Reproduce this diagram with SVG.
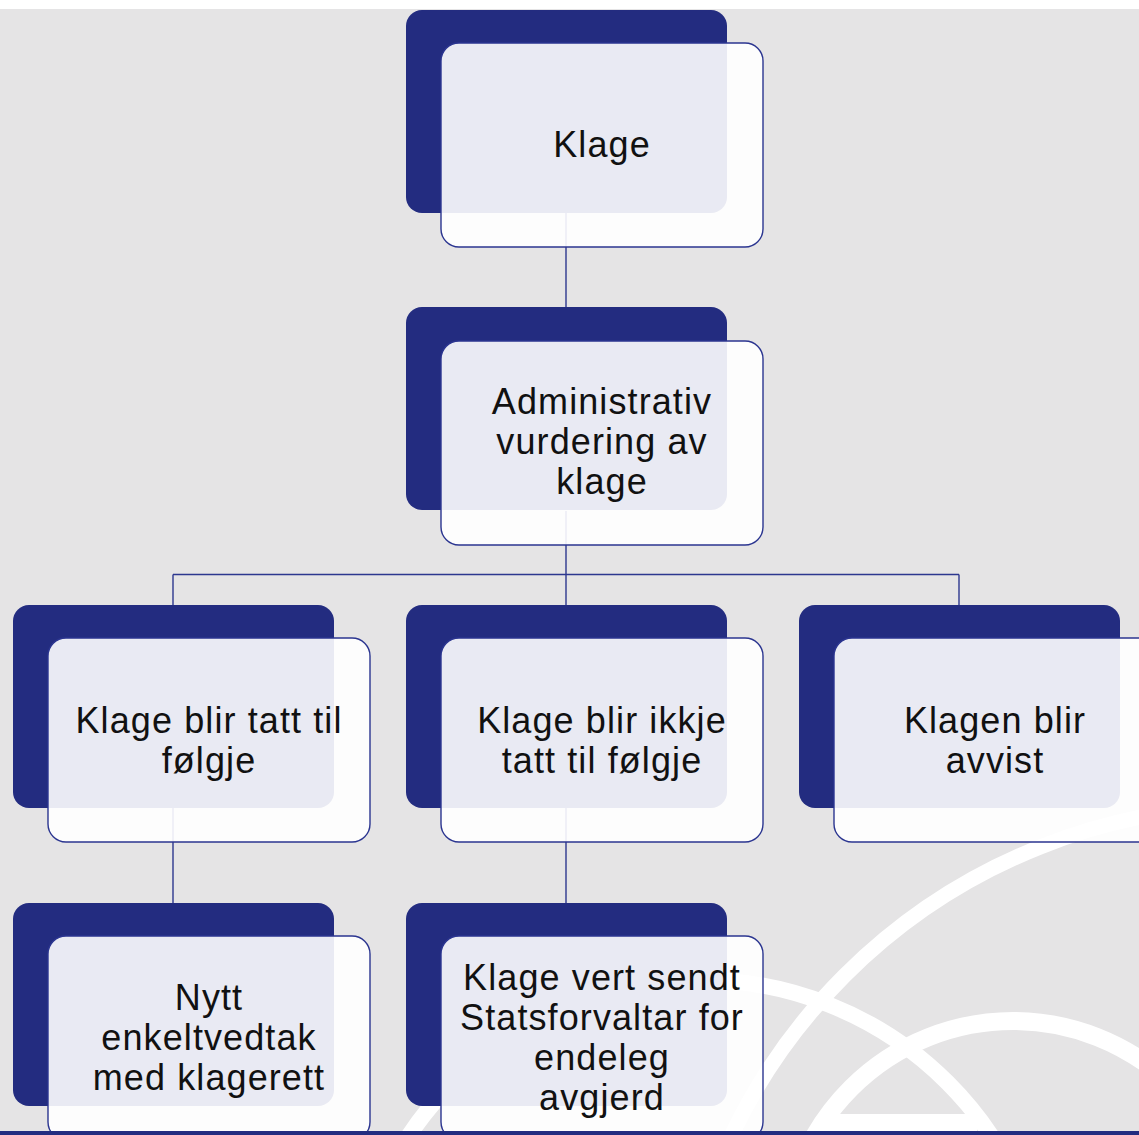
<svg xmlns="http://www.w3.org/2000/svg" width="1139" height="1135" viewBox="0 0 1139 1135">
  <style>
    .back { fill: #232c80; }
    .front { fill: #ffffff; fill-opacity: 0.9; stroke: #2b3590; stroke-width: 1.4; }
    .lbl { font-family: "Liberation Sans", Arial, sans-serif; font-size: 36px; letter-spacing: 1.1px; fill: #111111; text-anchor: middle; }
    .conn { stroke: #2d378f; stroke-width: 1.4; fill: none; }
    .arc { fill: none; stroke: #ffffff; }
  </style>
  <defs>
    <clipPath id="page"><rect x="0" y="9" width="1139" height="1122"/></clipPath>
  </defs>

  <!-- background -->
  <rect x="0" y="0" width="1139" height="1135" fill="#ffffff"/>
  <rect x="0" y="9" width="1139" height="1126" fill="#e5e4e5"/>

  <!-- decorative arcs -->
  <g id="decor" clip-path="url(#page)">
    <rect x="822" y="1114" width="155" height="20" fill="#ffffff"/>
    <circle class="arc" cx="1254" cy="1385" r="579" stroke-width="15"/>
    <circle class="arc" cx="700" cy="1330" r="350" stroke-width="16"/>
    <circle class="arc" cx="1013" cy="1250" r="229" stroke-width="18"/>
  </g>

  <!-- connectors -->
  <g id="connectors">
    <line class="conn" x1="566" y1="213" x2="566" y2="307"/>
    <line class="conn" x1="566" y1="511" x2="566" y2="605"/>
    <line class="conn" x1="173" y1="574.5" x2="959" y2="574.5"/>
    <line class="conn" x1="173" y1="574.5" x2="173" y2="605"/>
    <line class="conn" x1="959" y1="574.5" x2="959" y2="605"/>
    <line class="conn" x1="173" y1="808" x2="173" y2="903"/>
    <line class="conn" x1="566" y1="808" x2="566" y2="903"/>
  </g>

  <!-- nodes -->
  <g id="node-klage">
    <rect class="back" x="406" y="10" width="321" height="203" rx="16"/>
    <rect class="front" x="441" y="43" width="322" height="204" rx="18"/>
    <text class="lbl" x="602" y="157">Klage</text>
  </g>

  <g id="node-admin">
    <rect class="back" x="406" y="307" width="321" height="203" rx="16"/>
    <rect class="front" x="441" y="341" width="322" height="204" rx="18"/>
    <text class="lbl" x="602" y="414">Administrativ</text>
    <text class="lbl" x="602" y="454">vurdering av</text>
    <text class="lbl" x="602" y="494">klage</text>
  </g>

  <g id="node-tatt">
    <rect class="back" x="13" y="605" width="321" height="203" rx="16"/>
    <rect class="front" x="48" y="638" width="322" height="204" rx="18"/>
    <text class="lbl" x="209" y="733">Klage blir tatt til</text>
    <text class="lbl" x="209" y="773">følgje</text>
  </g>

  <g id="node-ikkje">
    <rect class="back" x="406" y="605" width="321" height="203" rx="16"/>
    <rect class="front" x="441" y="638" width="322" height="204" rx="18"/>
    <text class="lbl" x="602" y="733">Klage blir ikkje</text>
    <text class="lbl" x="602" y="773">tatt til følgje</text>
  </g>

  <g id="node-avvist">
    <rect class="back" x="799" y="605" width="321" height="203" rx="16"/>
    <rect class="front" x="834" y="638" width="322" height="204" rx="18"/>
    <text class="lbl" x="995" y="733">Klagen blir</text>
    <text class="lbl" x="995" y="773">avvist</text>
  </g>

  <g id="node-nytt">
    <rect class="back" x="13" y="903" width="321" height="203" rx="16"/>
    <rect class="front" x="48" y="936" width="322" height="204" rx="18"/>
    <text class="lbl" x="209" y="1010">Nytt</text>
    <text class="lbl" x="209" y="1050">enkeltvedtak</text>
    <text class="lbl" x="209" y="1090">med klagerett</text>
  </g>

  <g id="node-sendt">
    <rect class="back" x="406" y="903" width="321" height="203" rx="16"/>
    <rect class="front" x="441" y="936" width="322" height="204" rx="18"/>
    <text class="lbl" x="602" y="990">Klage vert sendt</text>
    <text class="lbl" x="602" y="1030">Statsforvaltar for</text>
    <text class="lbl" x="602" y="1070">endeleg</text>
    <text class="lbl" x="602" y="1110">avgjerd</text>
  </g>

  <!-- bottom rule -->
  <rect x="0" y="1131" width="1139" height="4" fill="#232c80"/>
</svg>
